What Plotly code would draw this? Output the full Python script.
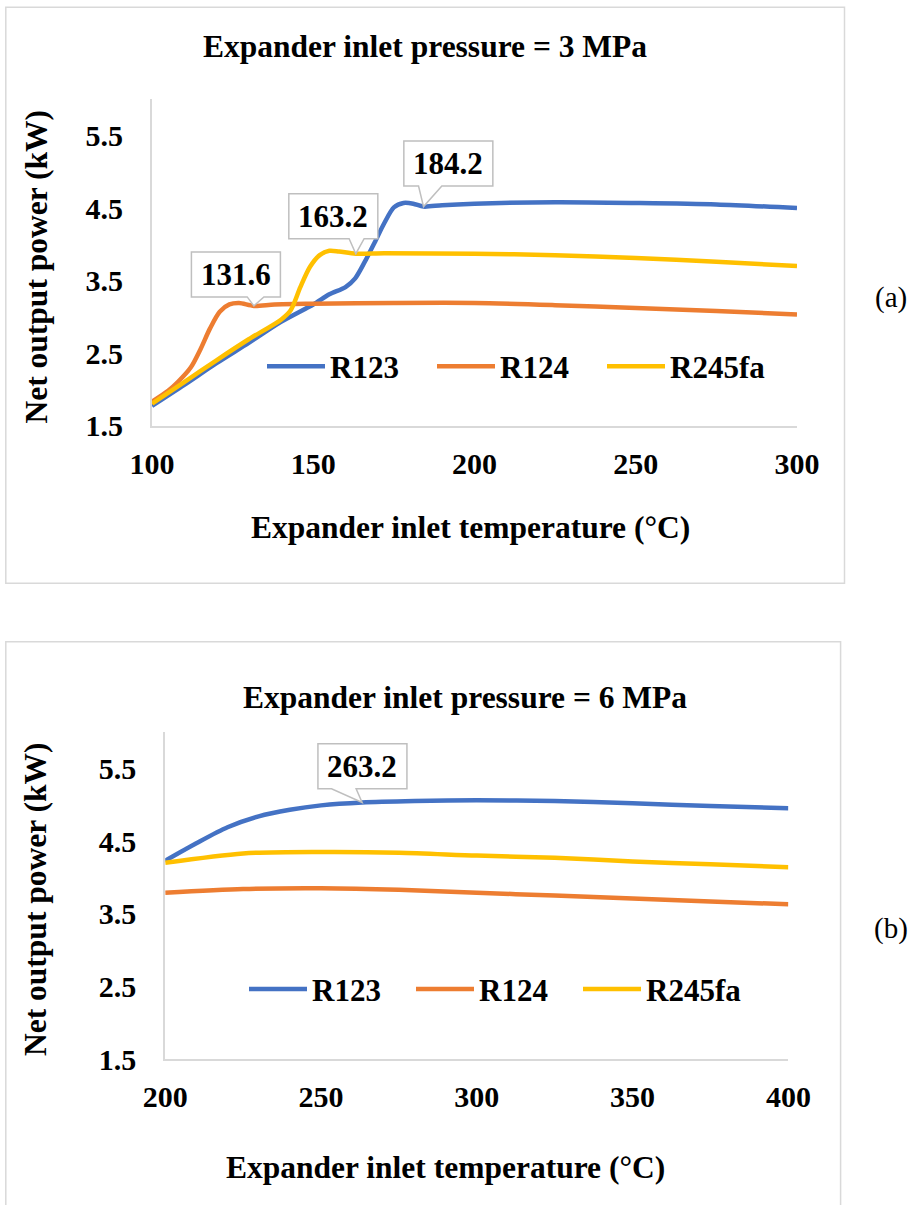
import plotly.graph_objects as go

# ---- (a) expander inlet pressure = 3 MPa ----
temp_a_r123 = [100, 110, 120, 130, 140, 150, 155, 160, 163, 166, 169, 172, 175, 178, 181, 184.2, 190, 200, 225, 250, 275, 300]
power_a_r123 = [1.77, 2.06, 2.36, 2.64, 2.93, 3.17, 3.31, 3.41, 3.53, 3.76, 4.02, 4.29, 4.51, 4.57, 4.56, 4.52, 4.54, 4.56, 4.58, 4.57, 4.55, 4.50]

temp_a_r124 = [100, 105, 108, 112, 115, 118, 121, 124, 127, 131.6, 138, 150, 175, 200, 225, 250, 275, 300]
power_a_r124 = [1.83, 1.98, 2.10, 2.30, 2.55, 2.84, 3.07, 3.17, 3.19, 3.15, 3.17, 3.18, 3.19, 3.19, 3.16, 3.12, 3.08, 3.03]

temp_a_r245fa = [100, 110, 120, 130, 140, 143, 146, 149, 152, 155, 158, 163.2, 172, 200, 225, 250, 275, 300]
power_a_r245fa = [1.80, 2.10, 2.40, 2.69, 2.96, 3.09, 3.41, 3.69, 3.85, 3.91, 3.90, 3.87, 3.875, 3.87, 3.85, 3.81, 3.76, 3.70]

# ---- (b) expander inlet pressure = 6 MPa ----
temp_b_r123 = [200, 210, 220, 230, 240, 250, 263.2, 280, 300, 325, 350, 375, 400]
power_b_r123 = [4.23, 4.47, 4.69, 4.84, 4.93, 4.99, 5.03, 5.05, 5.06, 5.05, 5.02, 4.98, 4.95]

temp_b_r124 = [200, 225, 250, 275, 300, 325, 350, 375, 400]
power_b_r124 = [3.79, 3.84, 3.85, 3.83, 3.79, 3.75, 3.71, 3.67, 3.63]

temp_b_r245fa = [200, 225, 250, 275, 300, 325, 350, 375, 400]
power_b_r245fa = [4.20, 4.33, 4.35, 4.34, 4.30, 4.27, 4.22, 4.18, 4.14]

fluids = ["R123", "R124", "R245fa"]
colors = ["#4472C4", "#ED7D31", "#FFC000"]

y_ticks = [1.5, 2.5, 3.5, 4.5, 5.5]
x_ticks_a = [100, 150, 200, 250, 300]
x_ticks_b = [200, 250, 300, 350, 400]

W, H = 909, 1205
FONT = "Liberation Serif, Times New Roman, serif"
GRID = "#D9D9D9"


def fx(px):
    return px / W


def fy(py):
    return 1 - py / H


fig = go.Figure()

series_a = [(temp_a_r123, power_a_r123), (temp_a_r124, power_a_r124), (temp_a_r245fa, power_a_r245fa)]
series_b = [(temp_b_r123, power_b_r123), (temp_b_r124, power_b_r124), (temp_b_r245fa, power_b_r245fa)]

for (t, p), name, c in zip(series_a, fluids, colors):
    fig.add_trace(go.Scatter(x=t, y=p, name=name, mode="lines",
                             line=dict(color=c, width=4.5, shape="spline", smoothing=0.8),
                             xaxis="x", yaxis="y", legend="legend"))
for (t, p), name, c in zip(series_b, fluids, colors):
    fig.add_trace(go.Scatter(x=t, y=p, name=name, mode="lines",
                             line=dict(color=c, width=4.5, shape="spline", smoothing=0.8),
                             xaxis="x2", yaxis="y2", legend="legend2"))

tick_font = dict(family=FONT, size=30, color="black", weight="bold")


def x_axis(domain, rng, ticks, anchor):
    return dict(domain=domain, range=rng, tickvals=ticks, showline=True, linecolor=GRID,
                linewidth=2, showgrid=False, zeroline=False, ticks="", tickfont=tick_font,
                ticklabelstandoff=10, anchor=anchor, fixedrange=True)


def y_axis(domain, anchor):
    return dict(domain=domain, range=[1.5, 6.0], tickvals=y_ticks, ticktext=[f"{v:.1f}" for v in y_ticks],
                showline=True, linecolor=GRID, linewidth=2, showgrid=False, zeroline=False,
                ticks="", tickfont=tick_font, ticklabelstandoff=21, anchor=anchor, fixedrange=True)


legend_font = dict(family=FONT, size=31, color="black", weight="bold")

fig.update_layout(
    width=W, height=H,
    autosize=False,
    margin=dict(l=0, r=0, t=0, b=0, autoexpand=False),
    paper_bgcolor="white", plot_bgcolor="white",
    xaxis=x_axis([fx(152), fx(797)], [100, 300], x_ticks_a, "y"),
    yaxis=y_axis([fy(425.5), fy(99.3)], "x"),
    xaxis2=x_axis([fx(165.2), fx(788.4)], [200, 400], x_ticks_b, "y2"),
    yaxis2=y_axis([fy(1059.3), fy(731.9)], "x2"),
    legend=dict(orientation="h", x=fx(262), xanchor="left", y=fy(366.7), yanchor="middle",
                font=legend_font, bgcolor="rgba(0,0,0,0)", entrywidth=97, entrywidthmode="pixels",
                itemwidth=58),
    legend2=dict(orientation="h", x=fx(244), xanchor="left", y=fy(989.3), yanchor="middle",
                 font=legend_font, bgcolor="rgba(0,0,0,0)", entrywidth=94, entrywidthmode="pixels",
                 itemwidth=58),
    showlegend=True,
)

# chart frames
shapes = [
    dict(type="rect", xref="paper", yref="paper", x0=fx(5.8), x1=fx(844.5), y0=fy(583.3), y1=fy(7.3),
         line=dict(color=GRID, width=1.5), layer="below"),
    dict(type="rect", xref="paper", yref="paper", x0=fx(5.8), x1=fx(840.6), y0=fy(1206), y1=fy(641.7),
         line=dict(color=GRID, width=1.5), layer="below"),
]

annotations = []
title_font = dict(family=FONT, size=31.5, color="black", weight="bold")


def text(s, x, y, font, angle=0):
    annotations.append(dict(text=s, x=fx(x), y=fy(y), xref="paper", yref="paper", showarrow=False,
                            xanchor="center", yanchor="middle", font=font, textangle=angle))


text("Expander inlet pressure = 3 MPa", 425, 47, title_font)
text("Expander inlet pressure = 6 MPa", 464.6, 697, title_font)
text("Expander inlet temperature (°C)", 470.5, 527, title_font)
text("Expander inlet temperature (°C)", 445, 1167, title_font)
text("Net output power (kW)", 36, 266.5, title_font, -90)
text("Net output power (kW)", 35, 899, title_font, -90)
panel_font = dict(family=FONT, size=29, color="black")
text("(a)", 891, 297, panel_font)
text("(b)", 891, 928, panel_font)

# callouts: (temps, powers, labelled temperature, box centre dx, gap above point, wedge base left/right, axes)
BOX_W, BOX_H = 89, 45
callouts = [
    (temp_a_r124, power_a_r124, 131.6, -18, 9, -6.7, 10, "x", "y"),
    (temp_a_r245fa, power_a_r245fa, 163.2, -22.5, 15, -6.7, 8.3, "x", "y"),
    (temp_a_r123, power_a_r123, 184.2, 24.8, 20.6, -5, 18.3, "x", "y"),
    (temp_b_r123, power_b_r123, 263.2, 0.3, 13.7, -30.6, -6, "x2", "y2"),
]
for temps, powers, t_lab, cx, gap, w1, w2, xr, yr in callouts:
    p_lab = powers[temps.index(t_lab)]
    left, right = cx - BOX_W / 2, cx + BOX_W / 2
    bottom, top = gap, gap + BOX_H
    path = (f"M{left},{bottom} L{left},{top} L{right},{top} L{right},{bottom} "
            f"L{w2},{bottom} L0,0 L{w1},{bottom} Z")
    shapes.append(dict(type="path", path=path, xref=xr, yref=yr, xsizemode="pixel", ysizemode="pixel",
                       xanchor=t_lab, yanchor=p_lab, fillcolor="white",
                       line=dict(color="#BFBFBF", width=1.5), layer="above"))
    annotations.append(dict(text=f"{t_lab:.1f}", x=t_lab, y=p_lab, xref=xr, yref=yr, showarrow=False,
                            xshift=cx, yshift=gap + BOX_H / 2, xanchor="center", yanchor="middle",
                            font=dict(family=FONT, size=31, color="black", weight="bold")))

fig.update_layout(shapes=shapes, annotations=annotations)

fig.write_html(
    "out.html",
    config={"responsive": False, "displayModeBar": False},
    post_script="document.body.style.margin='0';document.body.style.overflow='hidden';",
)
